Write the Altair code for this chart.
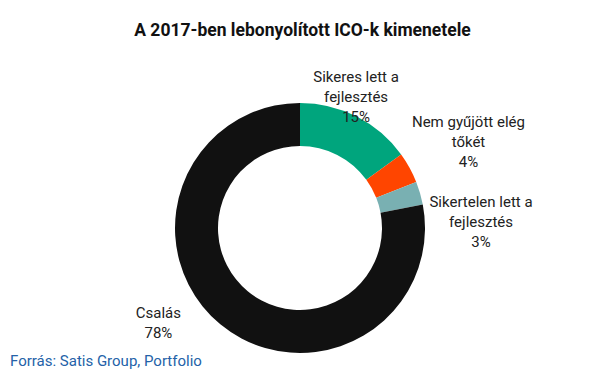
import altair as alt
import pandas as pd

categories = ["Sikeres lett a fejlesztés", "Nem gyűjött elég tőkét", "Sikertelen lett a fejlesztés", "Csalás"]
label_lines = [["Sikeres lett a", "fejlesztés", "15%"],
               ["Nem gyűjött elég", "tőkét", "4%"],
               ["Sikertelen lett a", "fejlesztés", "3%"],
               ["Csalás", "78%"]]
values = [15, 4, 3, 78]
colors = ["#00A57D", "#FF4500", "#79B0B2", "#111111"]

df = pd.DataFrame({"cat": categories, "value": values, "order": list(range(len(values))),
                   "label": label_lines})

CX, CY = 292, 179
theta_scale = alt.Scale(domain=[0, 100])

arc = alt.Chart(df).mark_arc(outerRadius=125, innerRadius=82, stroke=None).encode(
    theta=alt.Theta("value:Q", stack=True, scale=theta_scale),
    order=alt.Order("order:Q"),
    x=alt.value(CX), y=alt.value(CY),
    color=alt.Color("cat:N", scale=alt.Scale(domain=categories, range=colors), legend=None),
)

text_base = alt.Chart(df).transform_window(
    cum="sum(value)", sort=[alt.SortField("order")]
).transform_calculate(mid="datum.cum - datum.value / 2")

offsets = [(-12, -17), (37, -34), (37, 16), (-46, -31)]
layers = [arc]
for i, (dx, dy) in enumerate(offsets):
    layers.append(
        text_base.transform_filter(alt.datum.order == i)
        .mark_text(radius=150, dx=dx, dy=dy, font="Roboto", fontSize=15, color="#222222",
                   lineHeight=20, align="center", baseline="middle")
        .encode(theta=alt.Theta("mid:Q", stack=None, scale=theta_scale),
                x=alt.value(CX), y=alt.value(CY), text="label")
    )

source = alt.Chart(pd.DataFrame({"t": ["Forrás: Satis Group, Portfolio"]})).mark_text(
    font="Roboto", fontSize=15, color="#2462A8", align="left", baseline="middle"
).encode(x=alt.value(2), y=alt.value(312), text="t")
layers.append(source)

chart = alt.layer(*layers).properties(
    width=589, height=318, padding={"top": 13, "left": 0, "right": 0, "bottom": 0},
    title=alt.Title("A 2017-ben lebonyolított ICO-k kimenetele", font="Roboto", fontSize=17.5,
                    fontWeight="bold", color="#111111", anchor="middle", offset=10),
).configure_view(stroke=None)

chart.save("out.html", embed_options={"renderer": "svg", "actions": False})
